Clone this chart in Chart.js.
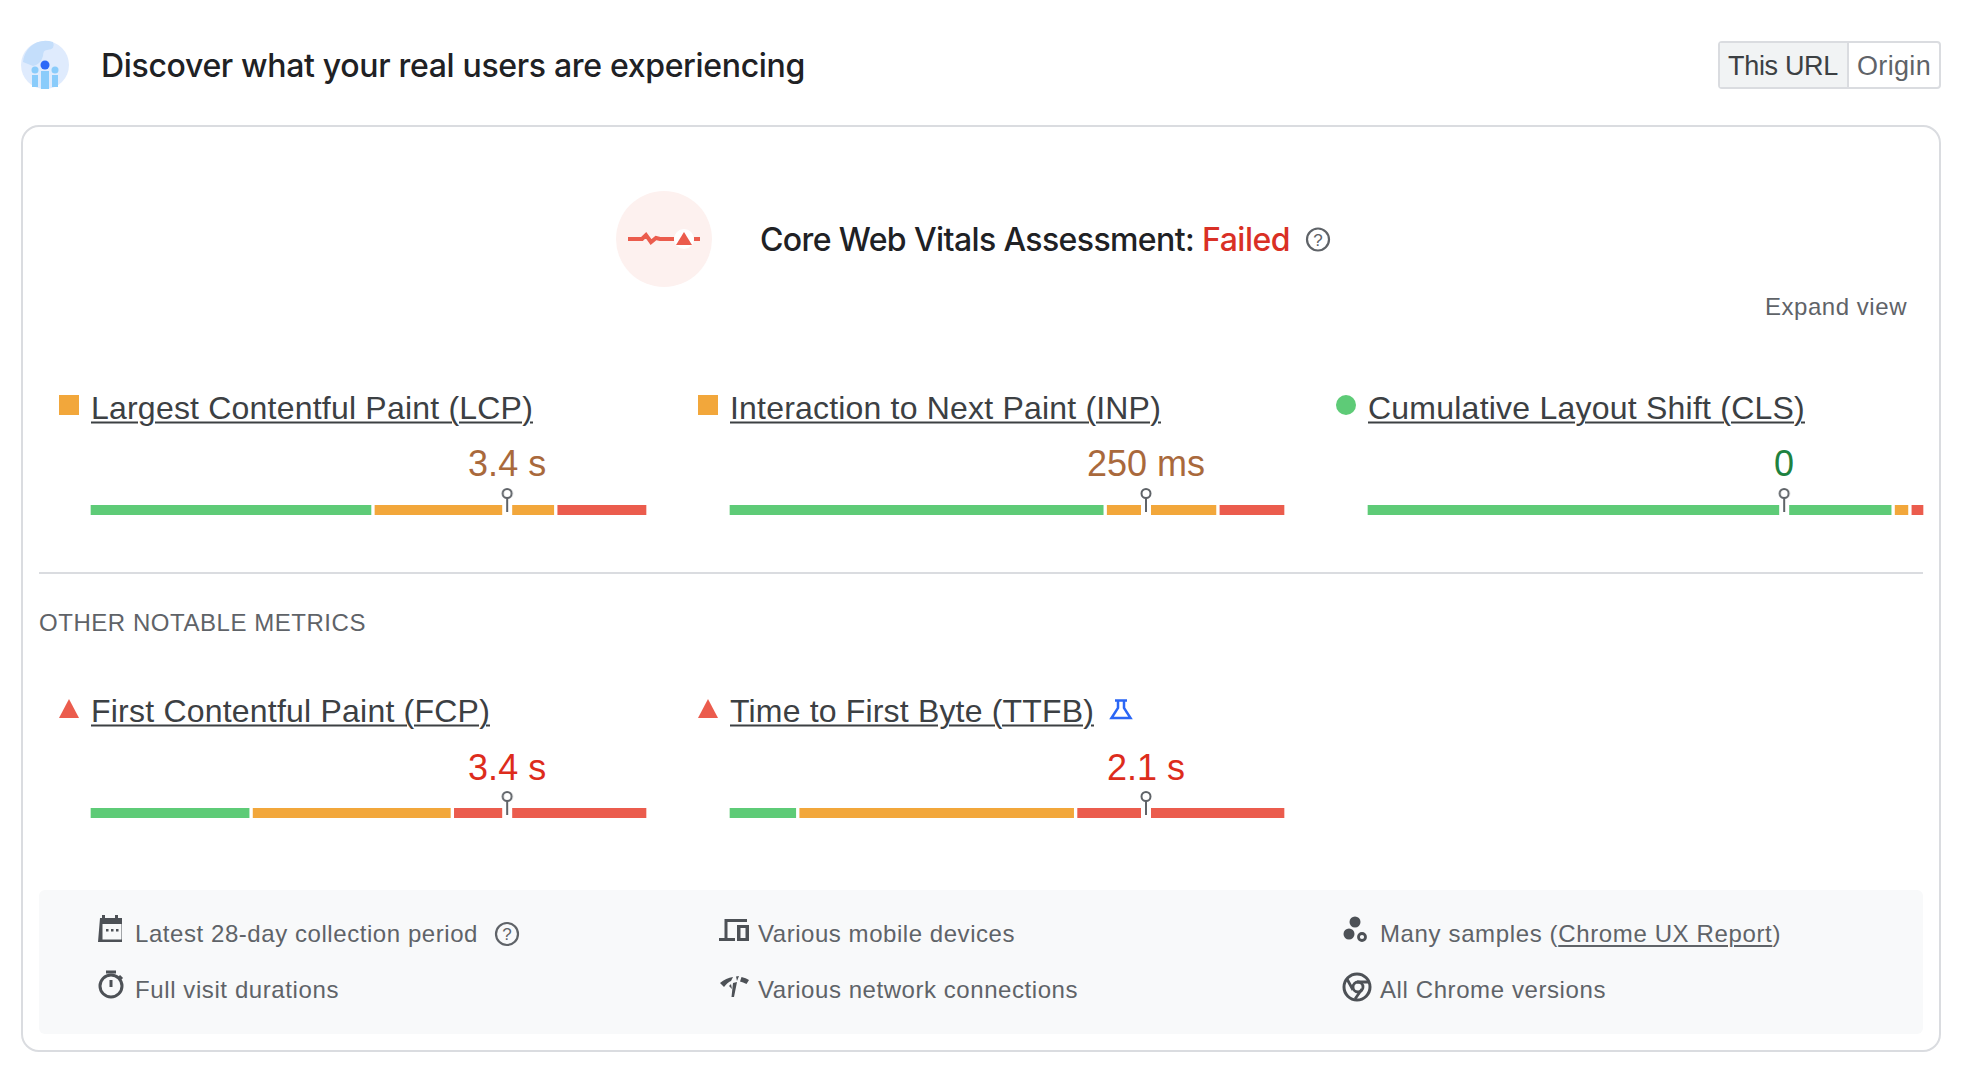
<!DOCTYPE html>
<html lang="en"><head><meta charset="utf-8"><title>Core Web Vitals Assessment</title>
<script src="https://cdn.jsdelivr.net/npm/chart.js@4"></script>
<style>
html,body{margin:0;padding:0;background:#fff;width:1972px;height:1080px;overflow:hidden}
body{position:relative;font-family:"Liberation Sans",sans-serif}
.box{position:absolute;box-sizing:border-box}
.t{position:absolute;white-space:nowrap;line-height:1;transform:translateY(-50%)}
canvas{position:absolute}
svg{position:absolute;overflow:visible}
.link{text-decoration:underline;text-decoration-thickness:2px;text-underline-offset:3px}
</style></head><body>
<div class="box" style="left:21px;top:125px;width:1920px;height:927px;border:2px solid #dadce0;border-radius:18px"></div>
<div class="box" style="left:39px;top:572px;width:1884px;height:2px;background:#dadce0"></div>
<div class="box" style="left:39px;top:890px;width:1884px;height:144px;background:#f8f9fa;border-radius:6px"></div>
<div class="box" style="left:1718px;top:41px;width:223px;height:48px;border:2px solid #dadce0;border-radius:4px"></div>
<div class="box" style="left:1720px;top:43px;width:129px;height:44px;background:#f1f3f4;border-right:2px solid #dadce0"></div>
<svg style="left:0;top:0" width="1972" height="1080" id="icons">
  <circle cx="45" cy="65" r="24" fill="#dfebfd"/>
  <path d="M30 47 A24 24 0 0 1 53 42 Q56 49 47 50 Q43 50 43 56 Q41 64 33 66 L23 62 A24 24 0 0 1 30 47Z" fill="#c4defb"/>
  <circle cx="45" cy="65" r="4.5" fill="#2e69f7"/>
  <circle cx="35" cy="70" r="3.5" fill="#8accfb"/><circle cx="55" cy="70" r="3.5" fill="#8accfb"/>
  <path d="M41 71h8v18h-8zM32 75h6v12h-6zM52 75h6v12h-6z" fill="#8accfb"/>
  <circle cx="664" cy="239" r="48" fill="#fdf1ef"/>
  <path d="M628 239H642L646 235L651 242L656 238L660 239H674M694 239H700" fill="none" stroke="#eb5c4d" stroke-width="4"/>
  <circle cx="684" cy="239" r="10" fill="#fff"/>
  <path d="M684 232L692 245H676Z" fill="#eb5c4d"/>
  <circle cx="1318" cy="239.500" r="11" fill="none" stroke="#5f6368" stroke-width="2.200"/>
  <text x="1318" y="245.500" font-size="17" font-family="Liberation Sans" fill="#5f6368" text-anchor="middle">?</text>
  <rect x="59" y="395" width="20" height="20" fill="#f2a73b"/>
  <rect x="698" y="395" width="20" height="20" fill="#f2a73b"/>
  <circle cx="1346" cy="405" r="10" fill="#5ecb77"/>
  <path d="M69 699L79 718H59Z" fill="#eb5c4d"/>
  <path d="M708 699L718 718H698Z" fill="#eb5c4d"/>
  <path d="M1115 700.500H1127M1118 701V708L1111.500 718H1130.500L1124 708V701" fill="none" stroke="#2a66f5" stroke-width="2.500"/>
  <path d="M101 918h2v-3h3v3h10v-3h3v3h4v24h-24z" fill="#4d5156" transform="translate(-1,0)"/><rect x="102.500" y="924" width="19" height="15.500" fill="#f8f9fa"/>
  <path d="M106 929h2.500v2.500h-2.500zM111 929h2.500v2.500h-2.500zM116 929h2.500v2.500h-2.500z" fill="#4d5156"/>
  <circle cx="507" cy="934" r="11" fill="none" stroke="#5f6368" stroke-width="2.200"/>
  <text x="507" y="940" font-size="17" font-family="Liberation Sans" fill="#5f6368" text-anchor="middle">?</text>
  <circle cx="111" cy="986" r="11" fill="none" stroke="#4d5156" stroke-width="3"/>
  <path d="M106 972h10M111 980v7M119 976l3 3" stroke="#4d5156" stroke-width="3" fill="none"/>
  <path d="M726 938V920.500H747M719 939.500H735" fill="none" stroke="#4d5156" stroke-width="3"/>
  <path d="M737 925H749V941H737Z M740.500 928V938H745.500V928Z" fill="#4d5156" fill-rule="evenodd"/>
  <path d="M720 983Q726 978 733 977L731 981Q728 982 724 987ZM736 976.500L739 976L737 981ZM741.500 977Q746 978 749 980L746.500 984Q743 982 740 981.500Z" fill="#4d5156"/>
  <path d="M733 983L731.500 997H734L737 982ZM729 986L732 989L731 984Z" fill="#4d5156"/>
  <circle cx="1355" cy="922" r="5.500" fill="#4d5156"/><circle cx="1349" cy="934" r="5.500" fill="#4d5156"/>
  <circle cx="1362" cy="937" r="3.500" fill="none" stroke="#4d5156" stroke-width="2.800"/>
  <circle cx="1357" cy="987" r="13" fill="none" stroke="#4d5156" stroke-width="3"/>
  <circle cx="1358" cy="987" r="5" fill="none" stroke="#4d5156" stroke-width="2.800"/>
  <path d="M1347 979L1353 990M1357 982H1369M1362 989L1355 999" stroke="#4d5156" stroke-width="2.800"/>
</svg>
<div id="labels"></div>
<canvas id="c0" width="559" height="50" style="left:89px;top:485px"></canvas>
<canvas id="c1" width="558" height="50" style="left:728px;top:485px"></canvas>
<canvas id="c2" width="559" height="50" style="left:1366px;top:485px"></canvas>
<canvas id="c3" width="559" height="50" style="left:89px;top:788px"></canvas>
<canvas id="c4" width="558" height="50" style="left:728px;top:788px"></canvas>
<script>
const metricNames = ['Largest Contentful Paint (LCP)','Interaction to Next Paint (INP)','Cumulative Layout Shift (CLS)','First Contentful Paint (FCP)','Time to First Byte (TTFB)'];
const metricValues = ['3.4 s','250 ms','0','3.4 s','2.1 s'];
const valueColors = ['#a9693c','#a9693c','#1e8240','#dd2c1c','#dd2c1c'];
const goodShare = [50.8, 67.6, 94.3, 29.0, 12.5];
const needsImprovementShare = [32.7, 20.2, 3.0, 36.0, 49.8];
const poorShare = [16.5, 12.2, 2.7, 35.0, 37.7];
const p75Position = [74.8, 74.9, 74.8, 74.8, 74.9];
const GREEN='#5ecb77', ORANGE='#f2a73b', RED='#eb5c4d';

// pin marker image used as the scatter point style
function pin(){
  const c=document.createElement('canvas');c.width=24;c.height=44;const g=c.getContext('2d');
  g.fillStyle='#fff';g.fillRect(7,17,10,10);
  g.strokeStyle='#5f6368';g.lineWidth=2;
  g.beginPath();g.arc(12,5.5,4.5,0,Math.PI*2);g.stroke();
  g.beginPath();g.moveTo(12,10);g.lineTo(12,24);g.stroke();
  return c;
}
const pinImg=pin();
const charts=metricNames.map((name,i)=>{
  const seg=(label,val,col)=>({type:'bar',label,data:[val],backgroundColor:col,borderColor:'#fff',
    borderWidth:{left:2,right:2,top:0,bottom:0},borderSkipped:false,barThickness:10,stack:'s',order:2});
  return new Chart(document.getElementById('c'+i),{
    type:'bar',
    data:{labels:[name],datasets:[
      seg('Good',goodShare[i],GREEN),
      seg('Needs improvement',needsImprovementShare[i],ORANGE),
      seg('Poor',poorShare[i],RED),
      {type:'scatter',label:'75th percentile',data:[{x:p75Position[i],y:name}],pointStyle:pinImg,order:1,clip:false}
    ]},
    options:{indexAxis:'y',responsive:false,animation:false,
      layout:{padding:0,autoPadding:false},
      plugins:{legend:{display:false},tooltip:{enabled:false}},
      scales:{
        x:{type:'linear',stacked:true,min:0,max:100,display:false},
        y:{type:'category',stacked:true,display:false}
      }}
  });
});

// text: [string, left, centerY, size, weight, color, targetWidth, family, extraClass]
const LS='"Liberation Sans"';
const texts=[
 ['Discover what your real users are experiencing',101,65,32,500,'#202124',704,'Inter'],
 ['This URL',1728,66,27,400,'#3c4043',110,LS],
 ['Origin',1857,66,27,400,'#5f6368',74,LS],
 ['Core Web Vitals Assessment:',760,239,32,500,'#202124',434,'Inter'],
 ['Failed',1202,239,32,500,'#d93025',88,'Inter'],
 ['Expand view',1765,307,24,400,'#5f6368',142,LS],
 [metricNames[0],91,408,32,400,'#3c4043',442,LS,'link'],
 [metricNames[1],730,408,32,400,'#3c4043',431,LS,'link'],
 [metricNames[2],1368,408,32,400,'#3c4043',437,LS,'link'],
 ['OTHER NOTABLE METRICS',39,622.5,24,400,'#5f6368',327,LS],
 [metricNames[3],91,711,32,400,'#3c4043',399,LS,'link'],
 [metricNames[4],730,711,32,400,'#3c4043',364,LS,'link'],
 ['Latest 28-day collection period',135,934,24,400,'#5f6368',343,LS],
 ['Full visit durations',135,990,24,400,'#5f6368',204,LS],
 ['Various mobile devices',758,934,24,400,'#5f6368',257,LS],
 ['Various network connections',758,990,24,400,'#5f6368',320,LS],
 ['All Chrome versions',1380,990,24,400,'#5f6368',226,LS],
];
const host=document.getElementById('labels');
function addText(a){
  const [s,l,y,size,w,col,tw,fam,cls]=a;
  const d=document.createElement('div');d.className='t'+(cls?' '+cls:'');d.textContent=s;
  d.style.cssText+=`left:${l}px;top:${y}px;font:${w} ${size}px ${fam};color:${col}`;
  host.appendChild(d);
  if(tw){const nat=d.getBoundingClientRect().width;d.style.letterSpacing=((tw-nat)/s.length)+'px';}
  return d;
}
texts.forEach(addText);
// Many samples line with its link
{
  const d=document.createElement('div');d.className='t';
  d.style.cssText+='left:1380px;top:934px;font:400 24px "Liberation Sans";color:#5f6368';
  d.innerHTML='Many samples (<span class="link">Chrome UX Report</span>)';
  host.appendChild(d);
  const nat=d.getBoundingClientRect().width;d.style.letterSpacing=((401-nat)/31)+'px';
}
// value labels centred on each marker, through the chart's own scale
charts.forEach((ch,i)=>{
  const r=ch.canvas.getBoundingClientRect();
  const px=r.left+ch.scales.x.getPixelForValue(p75Position[i]);
  const d=document.createElement('div');d.className='t';d.textContent=metricValues[i];
  d.style.cssText+=`left:${px}px;top:${i<3?464:768}px;font:400 36px "Liberation Sans";color:${valueColors[i]};transform:translate(-50%,-50%)`;
  host.appendChild(d);
});
</script>
</body></html>
